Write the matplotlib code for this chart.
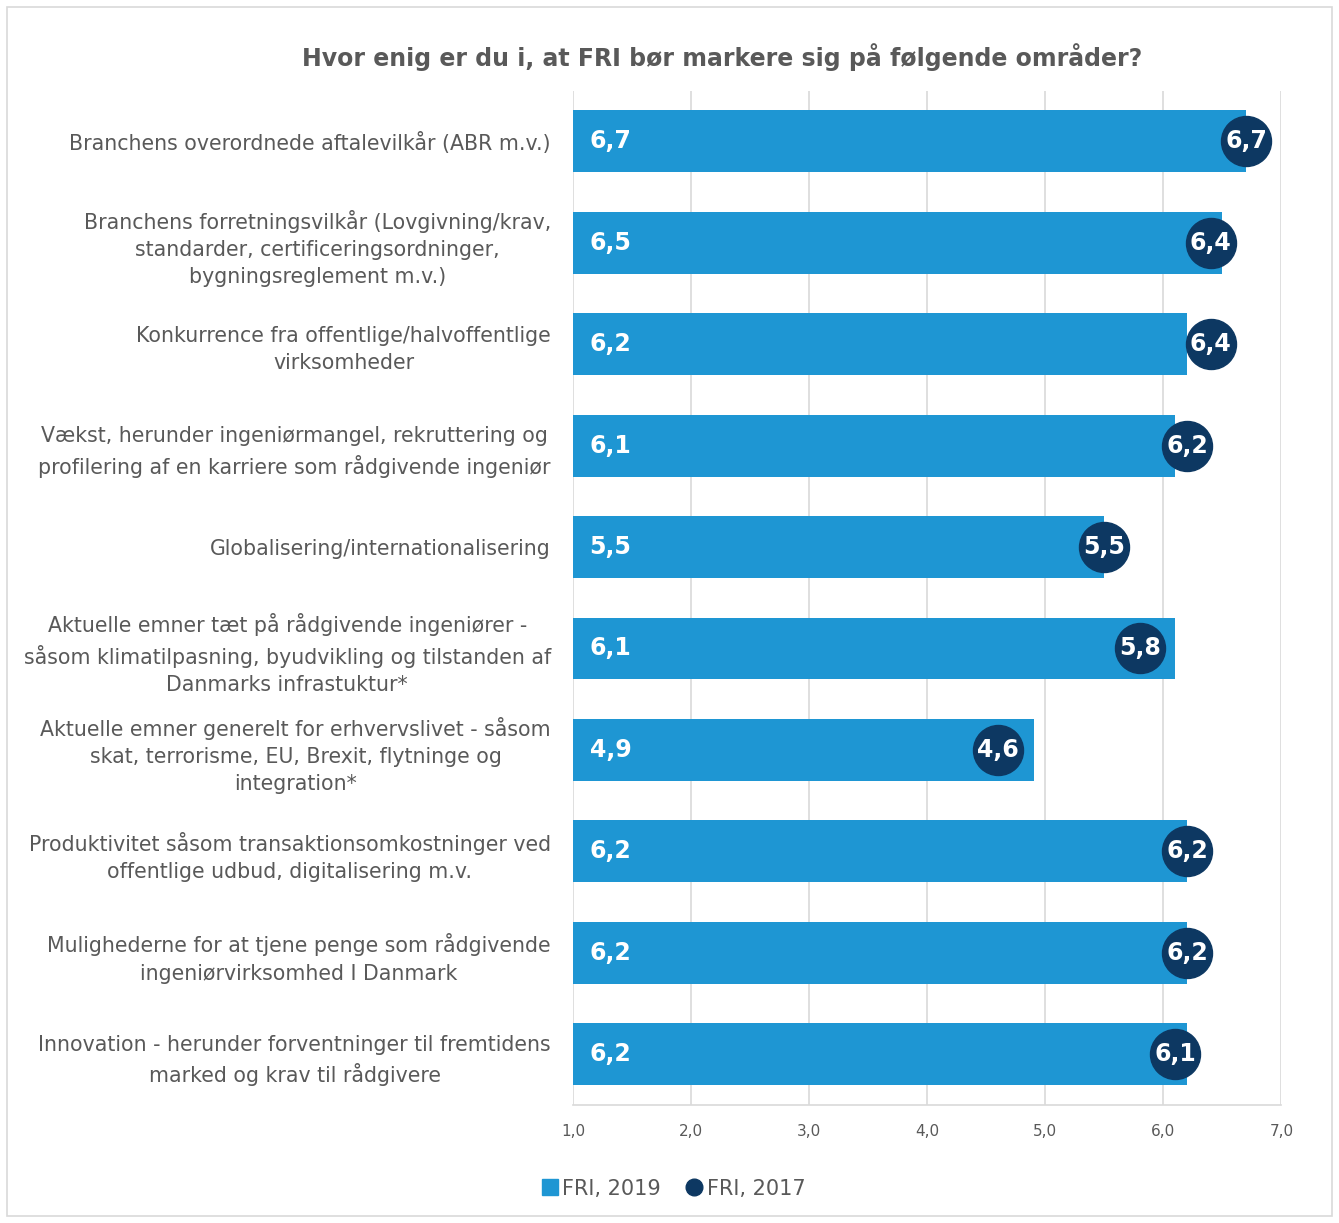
import matplotlib.pyplot as plt
from matplotlib.patches import Rectangle
from matplotlib.lines import Line2D

categories = [
    "Branchens overordnede aftalevilkår (ABR m.v.)",
    "Branchens forretningsvilkår (Lovgivning/krav,\nstandarder, certificeringsordninger,\nbygningsreglement m.v.)",
    "Konkurrence fra offentlige/halvoffentlige\nvirksomheder",
    "Vækst, herunder ingeniørmangel, rekruttering og\nprofilering af en karriere som rådgivende ingeniør",
    "Globalisering/internationalisering",
    "Aktuelle emner tæt på rådgivende ingeniører -\nsåsom klimatilpasning, byudvikling og tilstanden af\nDanmarks infrastuktur*",
    "Aktuelle emner generelt for erhvervslivet - såsom\nskat, terrorisme, EU, Brexit, flytninge og\nintegration*",
    "Produktivitet såsom transaktionsomkostninger ved\noffentlige udbud, digitalisering m.v.",
    "Mulighederne for at tjene penge som rådgivende\ningeniørvirksomhed I Danmark",
    "Innovation - herunder forventninger til fremtidens\nmarked og krav til rådgivere",
]
fri_2019 = [6.7, 6.5, 6.2, 6.1, 5.5, 6.1, 4.9, 6.2, 6.2, 6.2]
fri_2017 = [6.7, 6.4, 6.4, 6.2, 5.5, 5.8, 4.6, 6.2, 6.2, 6.1]
xticks = [1, 2, 3, 4, 5, 6, 7]

bar_color = "#1e96d3"
dot_color = "#0d3862"
text_gray = "#595959"

def fmt(v):
    return "{:.1f}".format(v).replace(".", ",")

fig = plt.figure(figsize=(13.39, 12.23), dpi=100)
fig.patches.append(Rectangle((0.005, 0.006), 0.99, 0.988, transform=fig.transFigure,
                             fill=False, edgecolor="#d9d9d9", linewidth=1.2))
ax = fig.add_axes([0.428, 0.0965, 0.529, 0.8295])

y = list(range(len(categories)))
ax.barh(y, [v - 1 for v in fri_2019], left=1, height=0.61, color=bar_color, zorder=2)
ax.plot(fri_2017, y, "o", color=dot_color, markersize=36, zorder=3)

for i in y:
    ax.text(1.14, i, fmt(fri_2019[i]), color="white", fontsize=17, fontweight="bold",
            va="center", ha="left", zorder=4)
    ax.text(fri_2017[i], i, fmt(fri_2017[i]), color="white", fontsize=17, fontweight="bold",
            va="center", ha="center", zorder=4)

ax.set_xlim(1, 7)
ax.set_ylim(9.5, -0.5)
ax.set_xticks(xticks)
ax.set_xticklabels([fmt(t) for t in xticks], fontsize=11, color=text_gray)
ax.set_yticks(y)
ax.set_yticklabels(categories, fontsize=14.8, color=text_gray, linespacing=1.45,
                   multialignment="center")
ax.tick_params(axis="both", length=0)
ax.tick_params(axis="x", pad=14)
ax.tick_params(axis="y", pad=16)
ax.grid(axis="x", color="#d9d9d9", linewidth=1.2, zorder=0)
ax.set_axisbelow(True)
for s in ["top", "right", "left"]:
    ax.spines[s].set_visible(False)
ax.spines["bottom"].set_color("#d9d9d9")
ax.spines["bottom"].set_linewidth(1.2)

fig.text(0.539, 0.953, "Hvor enig er du i, at FRI bør markere sig på følgende områder?",
         ha="center", va="center", fontsize=17, fontweight="bold", color=text_gray)

handles = [
    Line2D([0], [0], marker="s", color="none", markerfacecolor=bar_color,
           markeredgecolor=bar_color, markersize=11, label="FRI, 2019"),
    Line2D([0], [0], marker="o", color="none", markerfacecolor=dot_color,
           markeredgecolor=dot_color, markersize=12, label="FRI, 2017"),
]
fig.legend(handles=handles, loc="center", bbox_to_anchor=(0.503, 0.028), ncol=2,
           frameon=False, fontsize=15, handlelength=0.8, handletextpad=0.2,
           columnspacing=1.2, labelcolor=text_gray)

fig.savefig("out.png", dpi=100)
